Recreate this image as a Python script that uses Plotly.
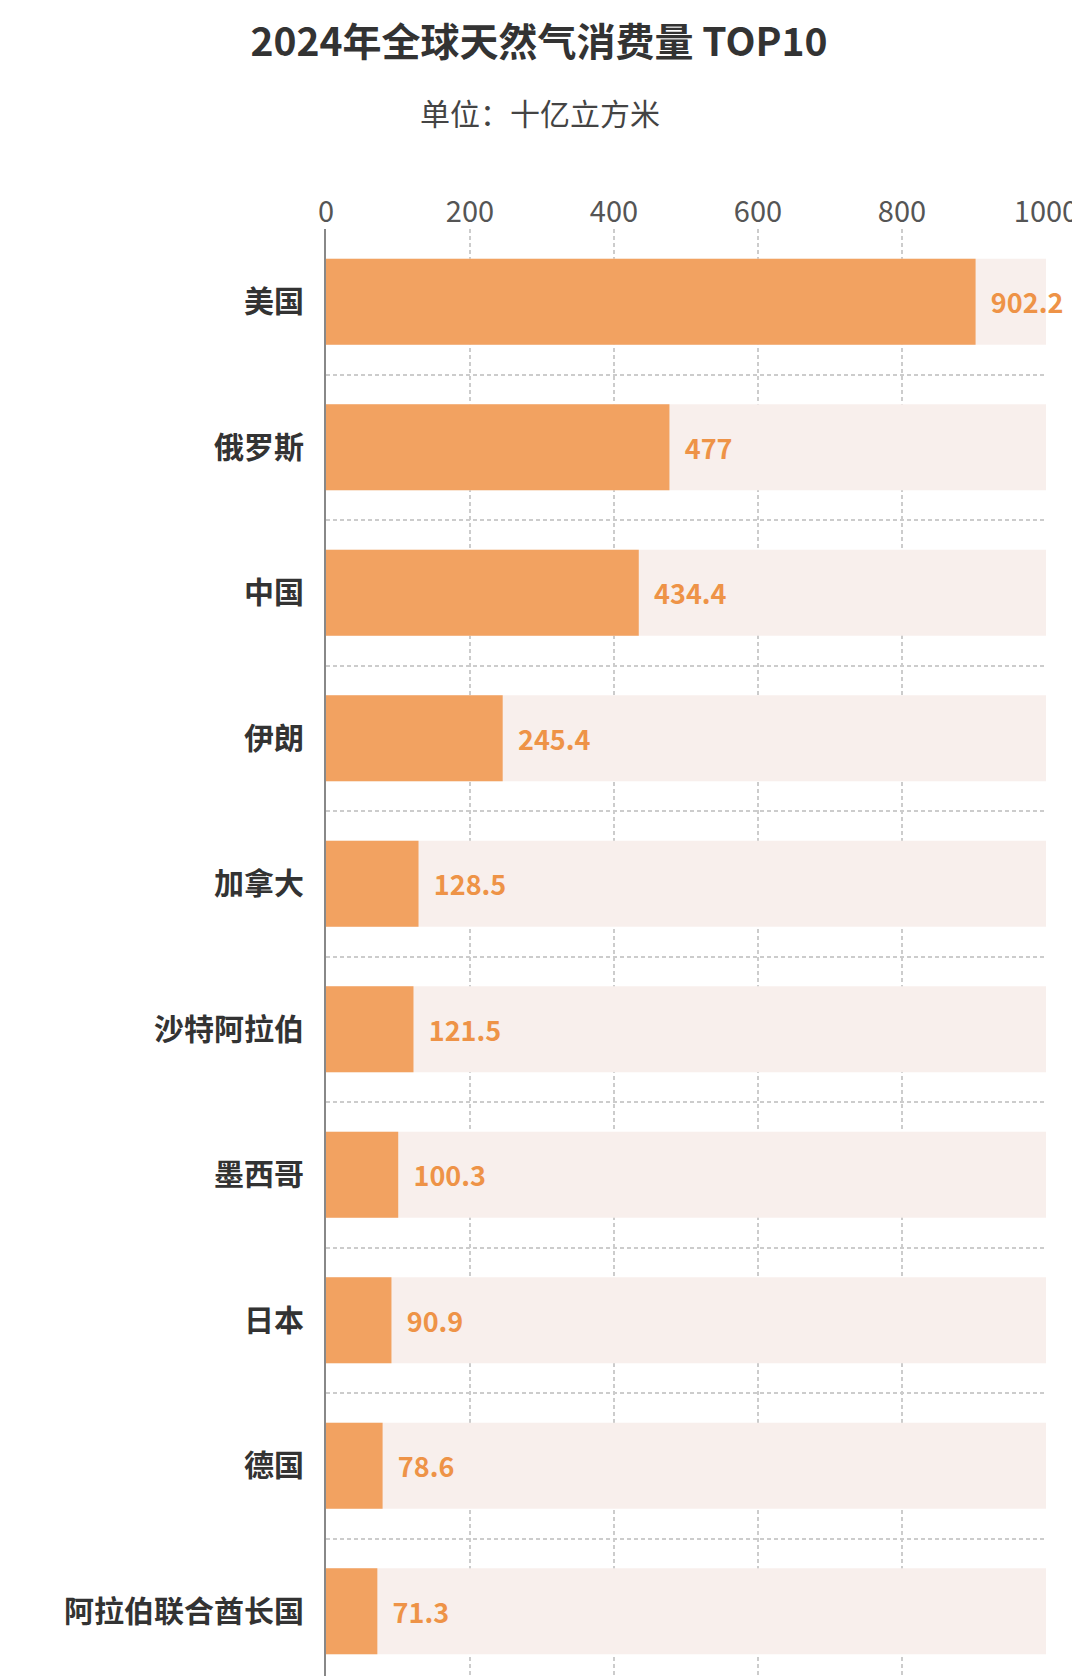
import plotly.graph_objects as go

countries = ["美国", "俄罗斯", "中国", "伊朗", "加拿大", "沙特阿拉伯", "墨西哥", "日本", "德国", "阿拉伯联合酋长国"]
values = [902.2, 477, 434.4, 245.4, 128.5, 121.5, 100.3, 90.9, 78.6, 71.3]
labels = ["902.2", "477", "434.4", "245.4", "128.5", "121.5", "100.3", "90.9", "78.6", "71.3"]
x_max = 1000

ypos = list(range(len(countries)))
font = "Noto Sans CJK SC"
L, R = 318, 42
plot_w = 1080 - L - R

fig = go.Figure()
fig.add_trace(go.Bar(x=[x_max] * len(countries), y=ypos, orientation="h", width=0.59,
                     marker=dict(color="#f8efec", line_width=0), hoverinfo="skip", showlegend=False))
fig.add_trace(go.Bar(x=values, y=ypos, orientation="h", width=0.59,
                     marker=dict(color="#f2a261", line_width=0),
                     text=["  " + t for t in labels], textposition="outside", cliponaxis=False,
                     textfont=dict(family=font, size=27, color="#ee9347", weight="bold"),
                     showlegend=False))

fig.update_layout(
    width=1080, height=1676, barmode="overlay",
    paper_bgcolor="white", plot_bgcolor="white",
    margin=dict(l=L, r=R, t=221, b=0),
    font=dict(family=font),
    title=dict(text="<b>2024年全球天然气消费量 TOP10</b>", x=531 / 1080, xanchor="center",
               y=1 - 34 / 1676, yanchor="middle", font=dict(size=39, color="#333333")),
    annotations=[dict(text="单位：十亿立方米", xref="paper", yref="paper",
                      x=(532 - L) / plot_w, xanchor="center",
                      y=1 + (221 - 104) / 1455, yanchor="middle", showarrow=False,
                      font=dict(size=30, color="#444444"))],
)
fig.update_xaxes(side="top", range=[0, x_max], tickvals=[0, 200, 400, 600, 800, 1000],
                 showgrid=True, gridcolor="#cccccc", griddash="4px,3px", gridwidth=1.5,
                 zeroline=False, ticks="", tickfont=dict(size=29, color="#555555"))
fig.update_yaxes(range=[9.5, -0.5], tickvals=ypos, ticktext=countries, showgrid=False,
                 zeroline=False, showline=True, linecolor="#888888", linewidth=2, ticks="",
                 ticklabelstandoff=14,
                 tickfont=dict(size=30, color="#333333", weight="bold"),
                 minor=dict(tick0=0.5, dtick=1, showgrid=True, gridcolor="#cccccc",
                            griddash="4px,3px", gridwidth=1.5))

fig.write_html("out.html")
